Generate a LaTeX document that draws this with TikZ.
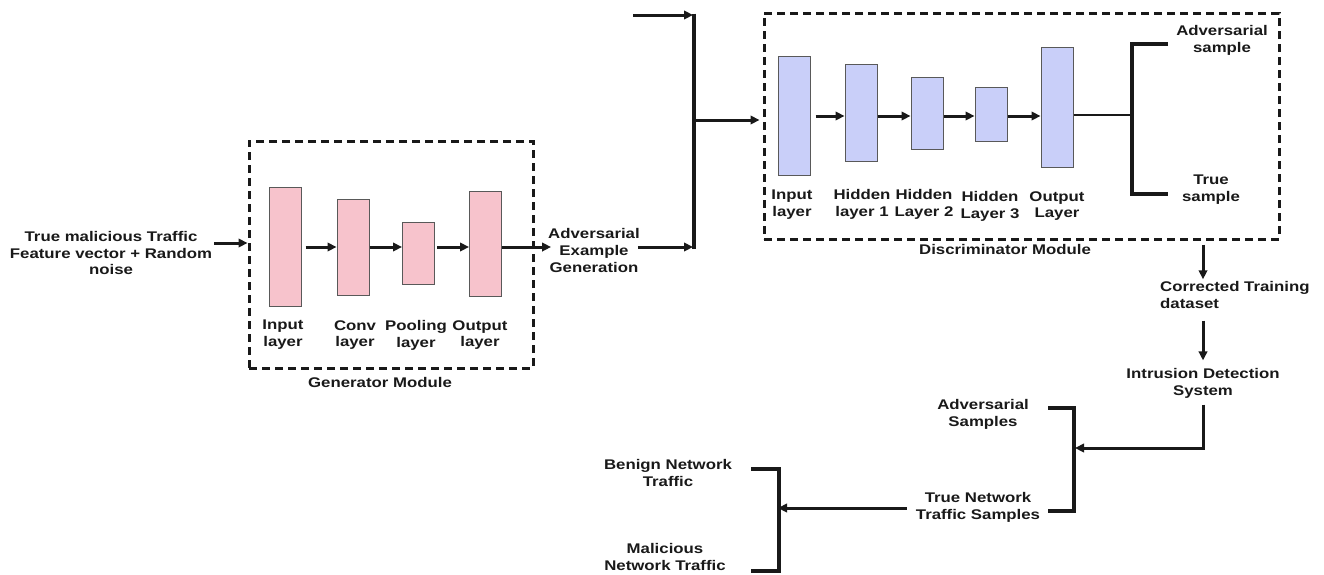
\documentclass[tikz,border=0pt]{standalone}
\usepackage{fontspec}
\setmainfont{Liberation Sans}[FakeStretch=1.2]
\usetikzlibrary{arrows.meta}
\definecolor{genfill}{RGB}{247,195,204}
\definecolor{disfill}{RGB}{201,207,249}
\definecolor{ink}{RGB}{25,25,25}
\begin{document}
\begin{tikzpicture}[x=1pt,y=-1pt,
  lbl/.style={font=\bfseries\fontsize{14}{16.8}\selectfont, align=center, inner sep=0pt, text=ink},
  layer/.style={draw=black!65, line width=1pt, inner sep=0pt, minimum width=32pt},
  genlayer/.style={layer, fill=genfill},
  dislayer/.style={layer, fill=disfill},
  module/.style={draw=ink, line width=3pt, dash pattern=on 8pt off 5pt, inner sep=0pt},
  arr/.style={draw=ink, line width=3pt, -{Triangle[length=9pt,width=8.5pt]}},
  brk/.style={draw=ink, line width=3.4pt},
  plain/.style={draw=ink, line width=2pt}
]
\useasboundingbox (0,0) rectangle (1324,574);

% ---------- Generator ----------
\node (gen) [module, minimum width=284pt, minimum height=227pt] at (391,254.5) {};
\node (genlbl) [lbl] at (380,382) {Generator Module};
\node (g1) [genlayer, minimum height=119pt] at (285,246.5) {};
\node (g2) [genlayer, minimum height=96pt] at (353,247) {};
\node (g3) [genlayer, minimum height=62pt] at (418.5,253) {};
\node (g4) [genlayer, minimum height=105pt] at (485.5,243.5) {};
\node (g1l) [lbl] at (283,335) {Input\\layer};
\node (g2l) [lbl] at (355,335) {Conv\\layer};
\node (g3l) [lbl] at (416,335) {Pooling\\layer};
\node (g4l) [lbl] at (480,335) {Output\\layer};
\coordinate (gy) at (0,247);
\draw[arr] ([xshift=4pt]g1.east |- gy) -- (g2.west |- gy);
\draw[arr] (g2.east |- gy) -- (g3.west |- gy);
\draw[arr] ([xshift=2pt]g3.east |- gy) -- (g4.west |- gy);

\node (inp) [lbl] at (111,253) {True malicious Traffic\\Feature vector + Random\\noise};
\coordinate (iny) at (0,243);
\draw[arr] ([xshift=2pt]inp.east |- iny) -- (gen.west |- iny);

\node (adv) [lbl] at (594,250.5) {Adversarial\\Example\\Generation};
\draw[arr] (g4.east |- gy) -- ([xshift=3pt]adv.west |- gy);

% ---------- Junction feeding the discriminator ----------
\coordinate (src) at (633,15);
\coordinate (jtop) at (694,15);
\coordinate (jbot) at (694,247);
\coordinate (jmid) at (694,120);
\draw[arr] (src) -- ([xshift=-1pt]jtop);
\draw[arr] ([xshift=-2pt]adv.east |- gy) -- ([xshift=-1pt]jbot);
\draw[brk] ([yshift=1.5pt]jtop) -- ([yshift=-1.5pt]jbot);

% ---------- Discriminator ----------
\node (dis) [module, minimum width=515pt, minimum height=226pt] at (1021.5,126) {};
\draw[arr] (jmid) -- ([xshift=-3pt]dis.west |- jmid);
\node (dislbl) [lbl] at (1005,249) {Discriminator Module};
\node (d1) [dislayer, minimum height=119pt] at (794,115.5) {};
\node (d2) [dislayer, minimum height=97pt] at (861,112.5) {};
\node (d3) [dislayer, minimum height=72pt] at (927,113) {};
\node (d4) [dislayer, minimum height=54pt] at (991,114) {};
\node (d5) [dislayer, minimum height=120pt] at (1057,107) {};
\node (d1l) [lbl] at (792,204.5) {Input\\layer};
\node (d2l) [lbl] at (862,204.5) {Hidden\\layer 1};
\node (d3l) [lbl] at (924,204.5) {Hidden\\Layer 2};
\node (d4l) [lbl] at (990,206) {Hidden\\Layer 3};
\node (d5l) [lbl] at (1057,206) {Output\\Layer};
\coordinate (dy) at (0,116);
\draw[arr] ([xshift=5pt]d1.east |- dy) -- (d2.west |- dy);
\draw[arr] (d2.east |- dy) -- (d3.west |- dy);
\draw[arr] (d3.east |- dy) -- (d4.west |- dy);
\draw[arr] (d4.east |- dy) -- (d5.west |- dy);

\coordinate (ob) at (1132,115);
\coordinate (obt) at (1132,44);
\coordinate (obb) at (1132,194);
\coordinate (obtr) at (1168,44);
\coordinate (obbr) at (1168,194);
\draw[plain] (d5.east |- ob) -- (ob);
\draw[brk] (obtr) -- (obt) -- (obb) -- (obbr);
\node (advs) [lbl] at (1222,40.5) {Adversarial\\sample};
\node (trues) [lbl] at (1211,190) {True\\sample};

% ---------- Downstream ----------
\node (ctd) [lbl, align=left, anchor=west] at (1160,295) {Corrected Training\\dataset};
\node (ids) [lbl] at (1203,383.5) {Intrusion Detection\\System};
\coordinate (vx) at (1203,0);
\draw[arr] ([yshift=-4pt]dis.south -| vx) -- ([yshift=2pt]ctd.north -| vx);
\draw[arr] ([yshift=-12pt]ctd.south -| vx) -- ([yshift=8pt]ids.north);

\coordinate (rbt) at (1074,408);
\coordinate (rbb) at (1074,511);
\coordinate (rbm) at (1074,448);
\coordinate (rbtl) at (1048,408);
\coordinate (rbbl) at (1048,511);
\draw[brk] (rbtl) -- (rbt) -- (rbb) -- (rbbl);
\draw[arr] ([yshift=-6pt]ids.south) |- ([xshift=1pt]rbm);
\node (advsm) [lbl] at (983,414) {Adversarial\\Samples};
\node (tnt) [lbl] at (978,507.5) {True Network\\Traffic Samples};

\coordinate (lbt) at (779,469);
\coordinate (lbb) at (779,571);
\coordinate (lbm) at (779,508);
\coordinate (lbtl) at (751,469);
\coordinate (lbbl) at (751,571);
\draw[brk] (lbtl) -- (lbt) -- (lbb) -- (lbbl);
\draw[arr] ([xshift=-9pt]tnt.west |- lbm) -- ([xshift=-1pt]lbm);
\node (ben) [lbl] at (668,473) {Benign Network\\Traffic};
\node (mal) [lbl] at (665,557) {Malicious\\Network Traffic};
\end{tikzpicture}
\end{document}
